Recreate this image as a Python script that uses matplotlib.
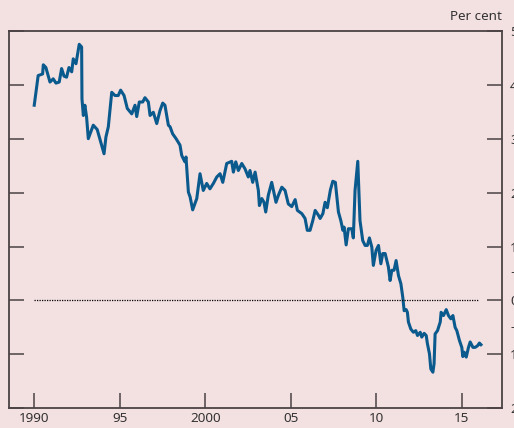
import matplotlib.pyplot as plt

# --- data (decimal year, per cent) ---
years = [1990.00, 1990.23, 1990.49, 1990.53, 1990.68, 1990.92, 1991.11, 1991.27, 1991.46, 1991.60,
         1991.74, 1991.89, 1992.03, 1992.19, 1992.28, 1992.44, 1992.63, 1992.77, 1992.79, 1992.87,
         1992.96, 1993.06, 1993.16, 1993.45, 1993.68, 1993.94, 1994.08, 1994.19, 1994.33, 1994.53,
         1994.72, 1994.91, 1995.05, 1995.25, 1995.44, 1995.70, 1995.89, 1995.99, 1996.14, 1996.34,
         1996.47, 1996.67, 1996.77, 1996.96, 1997.16, 1997.35, 1997.51, 1997.64, 1997.84, 1997.94,
         1998.09, 1998.29, 1998.52, 1998.62, 1998.71, 1998.81, 1998.87, 1999.01, 1999.11, 1999.26,
         1999.50, 1999.69, 1999.88, 2000.08, 2000.27, 2000.47, 2000.67, 2000.86, 2001.02, 2001.25,
         2001.54, 2001.64, 2001.78, 2001.93, 2002.13, 2002.32, 2002.51, 2002.61, 2002.77, 2002.91,
         2003.10, 2003.16, 2003.30, 2003.43, 2003.53, 2003.68, 2003.88, 2004.02, 2004.13, 2004.27,
         2004.47, 2004.66, 2004.85, 2005.05, 2005.25, 2005.38, 2005.64, 2005.83, 2005.96, 2006.12,
         2006.28, 2006.42, 2006.61, 2006.71, 2006.87, 2007.00, 2007.13, 2007.31, 2007.45, 2007.60,
         2007.78, 2007.92, 2008.04, 2008.11, 2008.23, 2008.36, 2008.56, 2008.65, 2008.75, 2008.91,
         2009.04, 2009.20, 2009.34, 2009.47, 2009.59, 2009.73, 2009.82, 2009.98, 2010.12, 2010.26,
         2010.37, 2010.51, 2010.70, 2010.80, 2010.90, 2011.03, 2011.15, 2011.29, 2011.43, 2011.54,
         2011.62, 2011.74, 2011.81, 2011.87, 2012.01, 2012.16, 2012.30, 2012.40, 2012.56, 2012.65,
         2012.79, 2012.91, 2012.98, 2013.10, 2013.18, 2013.30, 2013.37, 2013.43, 2013.57, 2013.73,
         2013.78, 2013.92, 2014.08, 2014.21, 2014.35, 2014.47, 2014.60, 2014.70, 2014.85, 2014.99,
         2015.05, 2015.13, 2015.25, 2015.38, 2015.48, 2015.64, 2015.77, 2015.91, 2016.02, 2016.11]

values = [3.62, 4.17, 4.20, 4.37, 4.32, 4.05, 4.11, 4.03, 4.05, 4.30,
          4.16, 4.14, 4.32, 4.24, 4.48, 4.39, 4.75, 4.70, 3.74, 3.43,
          3.62, 3.40, 3.00, 3.25, 3.17, 2.88, 2.72, 3.03, 3.22, 3.86,
          3.80, 3.80, 3.90, 3.80, 3.56, 3.46, 3.62, 3.41, 3.68, 3.68,
          3.76, 3.68, 3.43, 3.49, 3.28, 3.52, 3.66, 3.62, 3.25, 3.22,
          3.09, 3.00, 2.88, 2.69, 2.63, 2.57, 2.66, 2.01, 1.92, 1.68,
          1.89, 2.35, 2.04, 2.17, 2.07, 2.17, 2.29, 2.35, 2.19, 2.54,
          2.58, 2.38, 2.57, 2.41, 2.54, 2.44, 2.29, 2.41, 2.19, 2.38,
          2.04, 1.76, 1.89, 1.82, 1.64, 1.95, 2.19, 1.98, 1.82, 1.95,
          2.10, 2.04, 1.79, 1.74, 1.87, 1.67, 1.61, 1.52, 1.30, 1.30,
          1.48, 1.67, 1.58, 1.52, 1.61, 1.82, 1.72, 2.05, 2.21, 2.19,
          1.64, 1.48, 1.30, 1.36, 1.03, 1.33, 1.33, 1.16, 2.04, 2.58,
          1.48, 1.11, 1.02, 1.02, 1.16, 0.99, 0.65, 0.93, 1.02, 0.68,
          0.87, 0.87, 0.62, 0.37, 0.56, 0.56, 0.74, 0.46, 0.31, 0.06,
          -0.19, -0.17, -0.22, -0.40, -0.53, -0.59, -0.56, -0.65, -0.59, -0.68,
          -0.61, -0.65, -0.80, -0.99, -1.27, -1.33, -1.17, -0.62, -0.56, -0.40,
          -0.22, -0.28, -0.17, -0.28, -0.34, -0.28, -0.50, -0.56, -0.74, -0.87,
          -1.04, -0.96, -1.05, -0.87, -0.77, -0.87, -0.87, -0.84, -0.79, -0.82]

xticks = [1990, 1995, 2000, 2005, 2010, 2015]
xlabels = ["1990", "95", "2000", "05", "10", "15"]
yticks = [5, 4, 3, 2, 1, 0, -1, -2]
ylabels = ["5", "4", "3", "2", "1", "0", "1", "2"]

bg = "#f3e0e1"
line_col = "#0b5a8e"
axis_col = "#4a4244"
text_col = "#333333"

plt.rcParams['font.family'] = ['Noto Sans', 'DejaVu Sans']

fig = plt.figure(figsize=(5.14, 4.28), dpi=100, facecolor=bg)
ax = fig.add_axes([0.018, 0.046, 0.958, 0.882])
ax.set_facecolor(bg)

ax.plot(years, values, color=line_col, lw=2.2, solid_joinstyle='round')
ax.hlines(0, 1990, 2016, colors="black", lw=0.9, linestyles=(0, (1, 1)))

ax.set_xlim(1988.54, 2017.32)
ax.set_ylim(-2, 5)

ax.set_xticks(xticks)
ax.set_xticklabels(xlabels)
ax.set_yticks(yticks)
ax.set_yticklabels(ylabels)

ax.tick_params(axis='x', direction='in', length=11, width=1.1, color=axis_col,
               labelsize=9.7, labelcolor=text_col, pad=3, top=False)
ax.tick_params(axis='y', direction='in', length=11, width=1.1, color=axis_col,
               labelsize=9.7, labelcolor=text_col, pad=6, left=True, right=True,
               labelleft=False, labelright=True)

for s in ax.spines.values():
    s.set_color(axis_col)
    s.set_linewidth(1.3)

# sign markers either side of the zero label
trans = ax.get_yaxis_transform()
sign_x = 1.0 + 8.5 / 492
ax.text(sign_x, 0.5, "+", transform=trans, ha='left', va='center', fontsize=9.7,
        color=text_col, clip_on=False)
ax.text(sign_x, -0.5, "\u2013", transform=trans, ha='left', va='center', fontsize=9.7,
        color=text_col, clip_on=False)

ax.text(1.0, 1.02, "Per cent", transform=ax.transAxes, ha='right', va='bottom',
        fontsize=9.7, color=text_col)

fig.savefig("out.png", dpi=100, facecolor=bg)
